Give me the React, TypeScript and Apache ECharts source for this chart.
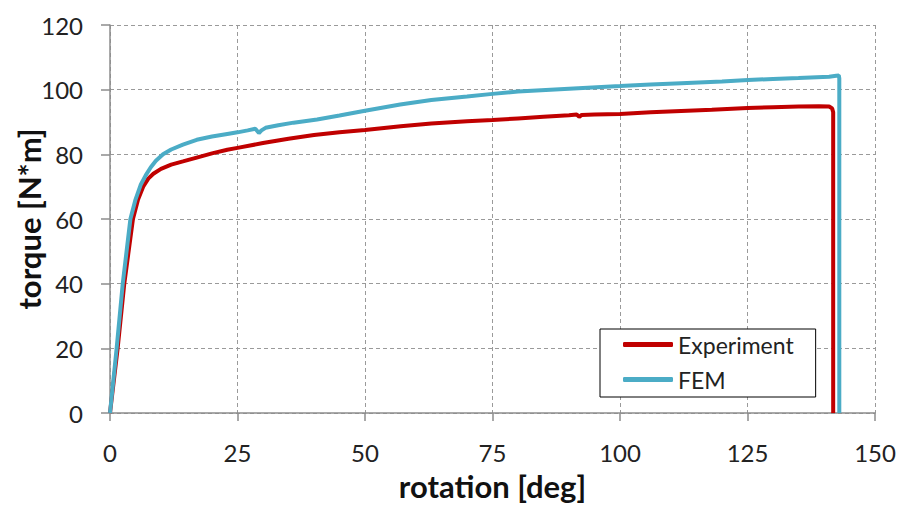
import React, { useEffect, useRef } from "react";
import * as echarts from "echarts";

const expX = [0, 1.5, 2.8, 4.5, 5.5, 6.5, 7.5, 8.5, 10, 12, 14.3, 17, 20, 23, 25, 30, 35, 40, 45, 50, 57, 63, 70, 75, 80, 85, 90, 91.5, 92, 92.5, 95, 100, 106, 112, 118, 125, 130, 135, 139, 141, 141.6, 141.8, 141.8];
const expY = [0, 20, 40, 60, 66, 70, 72.5, 74, 75.5, 76.8, 77.8, 79, 80.3, 81.4, 82, 83.5, 84.8, 86, 86.8, 87.5, 88.7, 89.5, 90.2, 90.6, 91.1, 91.6, 92.1, 92.3, 91.6, 92.2, 92.3, 92.5, 93, 93.4, 93.8, 94.3, 94.6, 94.8, 94.9, 94.8, 94.2, 93, 0];

const femX = [0, 1.3, 2.5, 4, 5, 6, 7, 8, 9, 10.4, 12, 14.3, 17, 20, 23, 25, 27, 28.5, 29.2, 29.7, 30.5, 33, 36, 40.6, 45, 50, 56.9, 63, 70, 75, 80, 90, 100, 106, 112, 120, 125.1, 130, 135, 141, 142.4, 142.9, 143, 143];
const femY = [0, 20, 40, 60, 66, 70.5, 73.5, 76, 78, 80, 81.5, 83, 84.5, 85.5, 86.3, 86.8, 87.4, 87.9, 86.6, 87.4, 88.2, 89, 89.8, 90.8, 92, 93.5, 95.4, 96.8, 97.9, 98.7, 99.4, 100.3, 101.1, 101.6, 102, 102.5, 103, 103.3, 103.6, 104, 104.3, 104.4, 103.5, 0];

const seriesNames = ["Experiment", "FEM"];
const xTitle = "rotation [deg]";
const yTitle = "torque [N*m]";

const FONT = "Lato, 'Open Sans', sans-serif";

export default function App() {
  const ref = useRef<HTMLDivElement>(null);
  useEffect(() => {
    if (!ref.current) return;
    const chart = echarts.init(ref.current, undefined, { renderer: "svg" });
    const axisColor = "#8c8c8c";
    const gridColor = "#9a9a9a";
    chart.setOption({
      animation: false,
      backgroundColor: "#ffffff",
      textStyle: { fontFamily: FONT },
      grid: { left: 110, right: 26, top: 25, bottom: 93, containLabel: false, outerBoundsMode: "none" },
      legend: {
        left: 600,
        top: 329,
        orient: "vertical",
        data: seriesNames,
        icon: "roundRect",
        itemWidth: 50,
        itemHeight: 5,
        itemGap: 12,
        padding: [4, 22, 6, 23],
        borderColor: "#000000",
        borderWidth: 1,
        backgroundColor: "#ffffff",
        textStyle: { fontFamily: FONT, fontSize: 23, color: "#222", lineHeight: 23, padding: [0, 0, 0, 0] },
      },
      xAxis: {
        type: "value",
        min: 0,
        max: 150,
        interval: 25,
        name: xTitle,
        nameLocation: "middle",
        nameGap: 57,
        nameMoveOverlap: false,
        nameTextStyle: { fontFamily: FONT, fontSize: 31, fontWeight: "bold", color: "#111" },
        axisLine: { show: true, lineStyle: { color: axisColor, width: 1.5 } },
        axisTick: { show: true, inside: false, length: 8, lineStyle: { color: axisColor, width: 1.5 } },
        axisLabel: { fontFamily: FONT, fontSize: 24, color: "#222", margin: 27 },
        splitLine: { show: true, lineStyle: { color: gridColor, type: [4, 3], width: 1 } },
      },
      yAxis: {
        type: "value",
        min: 0,
        max: 120,
        interval: 20,
        name: yTitle,
        nameLocation: "middle",
        nameGap: 66,
        nameMoveOverlap: false,
        nameRotate: 90,
        nameTextStyle: { fontFamily: FONT, fontSize: 31, fontWeight: "bold", color: "#111" },
        axisLine: { show: true, lineStyle: { color: axisColor, width: 1.5 } },
        axisTick: { show: true, inside: false, length: 9, lineStyle: { color: axisColor, width: 1.5 } },
        axisLabel: { fontFamily: FONT, fontSize: 24, color: "#222", margin: 27 },
        splitLine: { show: true, lineStyle: { color: gridColor, type: [4, 3], width: 1 } },
      },
      series: [
        {
          name: seriesNames[0],
          type: "line",
          data: expX.map((x, i) => [x, expY[i]]),
          showSymbol: false,
          symbol: "none",
          lineStyle: { color: "#C00000", width: 4 },
          itemStyle: { color: "#C00000" },
        },
        {
          name: seriesNames[1],
          type: "line",
          data: femX.map((x, i) => [x, femY[i]]),
          showSymbol: false,
          symbol: "none",
          lineStyle: { color: "#4BACC6", width: 4 },
          itemStyle: { color: "#4BACC6" },
        },
      ],
    });
    return () => chart.dispose();
  }, []);
  return (
    <div
      ref={ref}
      style={{ position: "fixed", left: 0, top: 0, width: 901, height: 506 }}
    />
  );
}
